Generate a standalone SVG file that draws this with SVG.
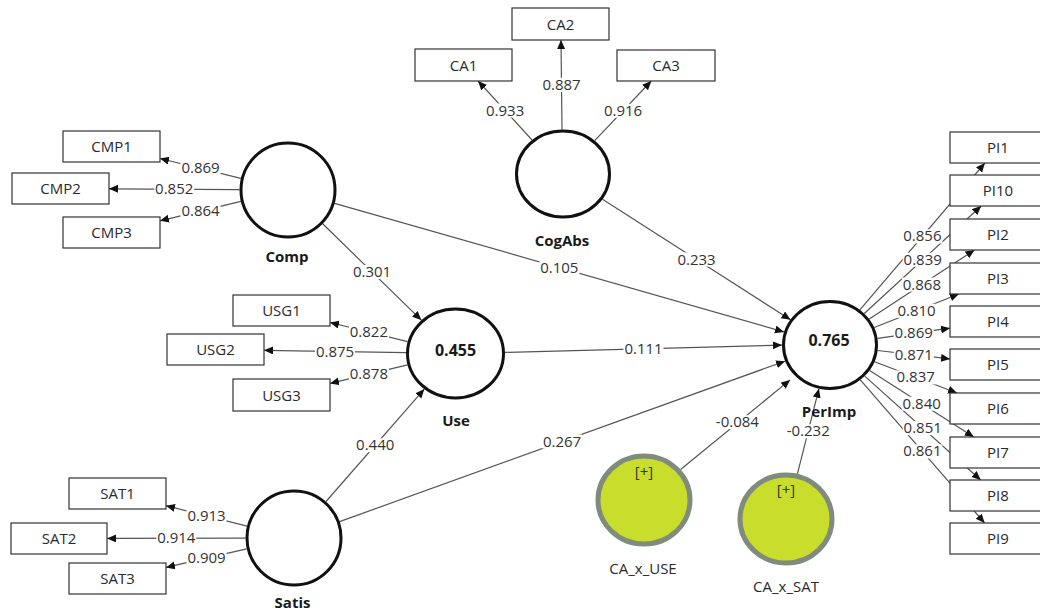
<svg xmlns="http://www.w3.org/2000/svg" width="1040" height="611" viewBox="0 0 1040 611">
<defs>
<marker id="ah" markerUnits="userSpaceOnUse" markerWidth="10" markerHeight="9" refX="9" refY="4" orient="auto">
<path d="M0,0 L9,4 L0,8 z" fill="#111"/>
</marker>
<style>
.e{stroke:#555;stroke-width:1.2;fill:none;marker-end:url(#ah)}
.lb{fill:#fff}
.v{font-family:"Open Sans","Noto Sans",sans-serif;font-size:15px;fill:#333;text-anchor:middle}
.bx{fill:#fff;stroke:#333;stroke-width:1.2}
.bt{font-family:"Open Sans","Noto Sans",sans-serif;font-size:15px;fill:#2a2a2a;text-anchor:middle}
.lv{fill:#fff;stroke:#111;stroke-width:3}
.lt{font-family:"Open Sans","Noto Sans",sans-serif;font-size:15px;font-weight:bold;fill:#1a1a1a;text-anchor:middle}
.r2{font-family:"Open Sans","Noto Sans",sans-serif;font-size:16px;font-weight:bold;fill:#1a1a1a;text-anchor:middle}
.mo{fill:#c9de2c;stroke:#7f8b7c;stroke-width:5}
.pl{font-family:"Open Sans","Noto Sans",sans-serif;font-size:15px;fill:#3a3320;text-anchor:middle}
.ml{font-family:"Open Sans","Noto Sans",sans-serif;font-size:15px;fill:#2a2a2a;text-anchor:middle}
</style>
</defs>
<rect width="1040" height="611" fill="#fff"/>
<g id="connectors">
<line class="e" x1="240.9" y1="178.4" x2="160" y2="158.5"/>
<line class="e" x1="239.5" y1="189.7" x2="109" y2="188.8"/>
<line class="e" x1="240.9" y1="201.3" x2="160" y2="220.8"/>
<line class="e" x1="407.6" y1="341.7" x2="330" y2="322.5"/>
<line class="e" x1="406" y1="352.7" x2="264" y2="350.3"/>
<line class="e" x1="407.6" y1="364.9" x2="330" y2="383.4"/>
<line class="e" x1="247" y1="526.2" x2="166" y2="505.7"/>
<line class="e" x1="245.6" y1="538.1" x2="107" y2="538.4"/>
<line class="e" x1="246.7" y1="548.9" x2="166" y2="567.4"/>
<line class="e" x1="532" y1="140" x2="478.1" y2="81"/>
<line class="e" x1="562" y1="129.4" x2="561" y2="40"/>
<line class="e" x1="594.7" y1="140.6" x2="651.3" y2="81"/>
<line class="e" x1="859.9" y1="309.8" x2="984.9" y2="163"/>
<line class="e" x1="864.3" y1="313.5" x2="981.2" y2="206"/>
<line class="e" x1="869.3" y1="319.1" x2="974.5" y2="250"/>
<line class="e" x1="874.2" y1="327.5" x2="958.9" y2="294"/>
<line class="e" x1="877.5" y1="338.4" x2="950" y2="328.2"/>
<line class="e" x1="877.6" y1="350.5" x2="950" y2="358.9"/>
<line class="e" x1="874.5" y1="361.8" x2="957" y2="393"/>
<line class="e" x1="869.6" y1="370.4" x2="973.8" y2="437"/>
<line class="e" x1="864.7" y1="376.1" x2="980.7" y2="480"/>
<line class="e" x1="860.3" y1="379.9" x2="984.6" y2="523"/>
<line class="e" x1="322.7" y1="223.8" x2="421.3" y2="320.1"/>
<line class="e" x1="334.6" y1="203.3" x2="784" y2="331.9"/>
<line class="e" x1="602.5" y1="199.3" x2="790.5" y2="319.7"/>
<line class="e" x1="505" y1="352.4" x2="782" y2="345.1"/>
<line class="e" x1="326" y1="501.5" x2="424.3" y2="389.1"/>
<line class="e" x1="339.6" y1="521.6" x2="785" y2="361.2"/>
<line class="e" x1="680.6" y1="469.5" x2="790.1" y2="379.9"/>
<line class="e" x1="797.4" y1="473.8" x2="818.9" y2="388.8"/>
<rect class="lb" x="180.5" y="161.4" width="40" height="14"/>
<rect class="lb" x="154.2" y="182.3" width="40" height="14"/>
<rect class="lb" x="180.5" y="204.1" width="40" height="14"/>
<rect class="lb" x="348.9" y="325.1" width="40" height="14"/>
<rect class="lb" x="315" y="344.5" width="40" height="14"/>
<rect class="lb" x="348.9" y="367.2" width="40" height="14"/>
<rect class="lb" x="186.5" y="508.9" width="40" height="14"/>
<rect class="lb" x="156.3" y="531.3" width="40" height="14"/>
<rect class="lb" x="186.5" y="551.1" width="40" height="14"/>
<rect class="lb" x="485.1" y="103.5" width="40" height="14"/>
<rect class="lb" x="541.5" y="77.8" width="40" height="14"/>
<rect class="lb" x="603" y="103.8" width="40" height="14"/>
<rect class="lb" x="902.4" y="229.4" width="40" height="14"/>
<rect class="lb" x="902.7" y="252.7" width="40" height="14"/>
<rect class="lb" x="901.9" y="277.6" width="40" height="14"/>
<rect class="lb" x="896.5" y="303.8" width="40" height="14"/>
<rect class="lb" x="893.7" y="326.3" width="40" height="14"/>
<rect class="lb" x="893.8" y="347.7" width="40" height="14"/>
<rect class="lb" x="895.7" y="370.4" width="40" height="14"/>
<rect class="lb" x="901.7" y="396.7" width="40" height="14"/>
<rect class="lb" x="902.7" y="421.1" width="40" height="14"/>
<rect class="lb" x="902.4" y="444.4" width="40" height="14"/>
<rect class="lb" x="352" y="265" width="40" height="14"/>
<rect class="lb" x="539.3" y="260.6" width="40" height="14"/>
<rect class="lb" x="676.5" y="252.5" width="40" height="14"/>
<rect class="lb" x="623.5" y="342.2" width="40" height="14"/>
<rect class="lb" x="355.2" y="438.3" width="40" height="14"/>
<rect class="lb" x="542" y="434.5" width="40" height="14"/>
<rect class="lb" x="714.4" y="415.2" width="46" height="14"/>
<rect class="lb" x="785.2" y="424.3" width="46" height="14"/>
<text class="v" x="200.5" y="173.4">0.869</text>
<text class="v" x="174.2" y="194.3">0.852</text>
<text class="v" x="200.5" y="216.1">0.864</text>
<text class="v" x="368.9" y="337.1">0.822</text>
<text class="v" x="335" y="356.5">0.875</text>
<text class="v" x="368.9" y="379.2">0.878</text>
<text class="v" x="206.5" y="520.9">0.913</text>
<text class="v" x="176.3" y="543.3">0.914</text>
<text class="v" x="206.5" y="563.1">0.909</text>
<text class="v" x="505.1" y="115.5">0.933</text>
<text class="v" x="561.5" y="89.8">0.887</text>
<text class="v" x="623" y="115.8">0.916</text>
<text class="v" x="922.4" y="241.4">0.856</text>
<text class="v" x="922.7" y="264.7">0.839</text>
<text class="v" x="921.9" y="289.6">0.868</text>
<text class="v" x="916.5" y="315.8">0.810</text>
<text class="v" x="913.7" y="338.3">0.869</text>
<text class="v" x="913.8" y="359.7">0.871</text>
<text class="v" x="915.7" y="382.4">0.837</text>
<text class="v" x="921.7" y="408.7">0.840</text>
<text class="v" x="922.7" y="433.1">0.851</text>
<text class="v" x="922.4" y="456.4">0.861</text>
<text class="v" x="372" y="277">0.301</text>
<text class="v" x="559.3" y="272.6">0.105</text>
<text class="v" x="696.5" y="264.5">0.233</text>
<text class="v" x="643.5" y="354.2">0.111</text>
<text class="v" x="375.2" y="450.3">0.440</text>
<text class="v" x="562" y="446.5">0.267</text>
<text class="v" x="737.4" y="427.2">-0.084</text>
<text class="v" x="808.2" y="436.3">-0.232</text>
</g>
<g id="CMP1"><rect class="bx" x="63" y="131" width="97" height="31"/><text class="bt" x="111.5" y="152">CMP1</text></g>
<g id="CMP2"><rect class="bx" x="12" y="173" width="97" height="31"/><text class="bt" x="60.5" y="194">CMP2</text></g>
<g id="CMP3"><rect class="bx" x="63" y="217" width="97" height="31"/><text class="bt" x="111.5" y="238">CMP3</text></g>
<g id="USG1"><rect class="bx" x="233" y="295" width="97" height="31"/><text class="bt" x="281.5" y="316">USG1</text></g>
<g id="USG2"><rect class="bx" x="167" y="334" width="97" height="31"/><text class="bt" x="215.5" y="355">USG2</text></g>
<g id="USG3"><rect class="bx" x="233" y="379" width="97" height="32"/><text class="bt" x="281.5" y="400.5">USG3</text></g>
<g id="SAT1"><rect class="bx" x="69" y="478" width="97" height="31"/><text class="bt" x="117.5" y="499">SAT1</text></g>
<g id="SAT2"><rect class="bx" x="11" y="523" width="96" height="31"/><text class="bt" x="59" y="544">SAT2</text></g>
<g id="SAT3"><rect class="bx" x="69" y="563" width="97" height="31"/><text class="bt" x="117.5" y="584">SAT3</text></g>
<g id="CA1"><rect class="bx" x="415" y="49" width="97" height="32"/><text class="bt" x="463.5" y="70.5">CA1</text></g>
<g id="CA2"><rect class="bx" x="512" y="8" width="97" height="32"/><text class="bt" x="560.5" y="29.5">CA2</text></g>
<g id="CA3"><rect class="bx" x="617" y="50" width="98" height="31"/><text class="bt" x="666" y="71">CA3</text></g>
<g id="PI1"><rect class="bx" x="950" y="132" width="96" height="31"/><text class="bt" x="998" y="153">PI1</text></g>
<g id="PI10"><rect class="bx" x="950" y="175" width="96" height="31"/><text class="bt" x="998" y="196">PI10</text></g>
<g id="PI2"><rect class="bx" x="950" y="219" width="96" height="31"/><text class="bt" x="998" y="240">PI2</text></g>
<g id="PI3"><rect class="bx" x="950" y="263" width="96" height="31"/><text class="bt" x="998" y="284">PI3</text></g>
<g id="PI4"><rect class="bx" x="950" y="306" width="96" height="31"/><text class="bt" x="998" y="327">PI4</text></g>
<g id="PI5"><rect class="bx" x="950" y="349" width="96" height="31"/><text class="bt" x="998" y="370">PI5</text></g>
<g id="PI6"><rect class="bx" x="950" y="393" width="96" height="31"/><text class="bt" x="998" y="414">PI6</text></g>
<g id="PI7"><rect class="bx" x="950" y="437" width="96" height="31"/><text class="bt" x="998" y="458">PI7</text></g>
<g id="PI8"><rect class="bx" x="950" y="480" width="96" height="31"/><text class="bt" x="998" y="501">PI8</text></g>
<g id="PI9"><rect class="bx" x="950" y="523" width="96" height="31"/><text class="bt" x="998" y="544">PI9</text></g>
<g id="Comp"><ellipse class="lv" cx="288" cy="190" rx="47" ry="47"/><text class="lt" x="287" y="262">Comp</text></g>
<g id="CogAbs"><ellipse class="lv" cx="563" cy="174" rx="46.5" ry="43"/><text class="lt" x="562" y="246">CogAbs</text></g>
<g id="Use"><ellipse class="lv" cx="455.5" cy="353.5" rx="48" ry="44.5"/><text class="r2" x="455.5" y="356">0.455</text><text class="lt" x="456" y="426">Use</text></g>
<g id="Satis"><ellipse class="lv" cx="294" cy="538" rx="47" ry="47"/><text class="lt" x="292.5" y="608">Satis</text></g>
<g id="PerImp"><ellipse class="lv" cx="830" cy="345" rx="46.5" ry="43.5"/><text class="r2" x="829" y="346">0.765</text><text class="lt" x="829" y="417">PerImp</text></g>
<g id="CA_x_USE"><ellipse class="mo" cx="644" cy="500" rx="46" ry="44"/><text class="pl" x="644" y="477">[+]</text><text class="ml" x="643" y="574">CA_x_USE</text></g>
<g id="CA_x_SAT"><ellipse class="mo" cx="786" cy="519" rx="46" ry="44"/><text class="pl" x="786" y="495">[+]</text><text class="ml" x="786" y="592">CA_x_SAT</text></g>
</svg>
